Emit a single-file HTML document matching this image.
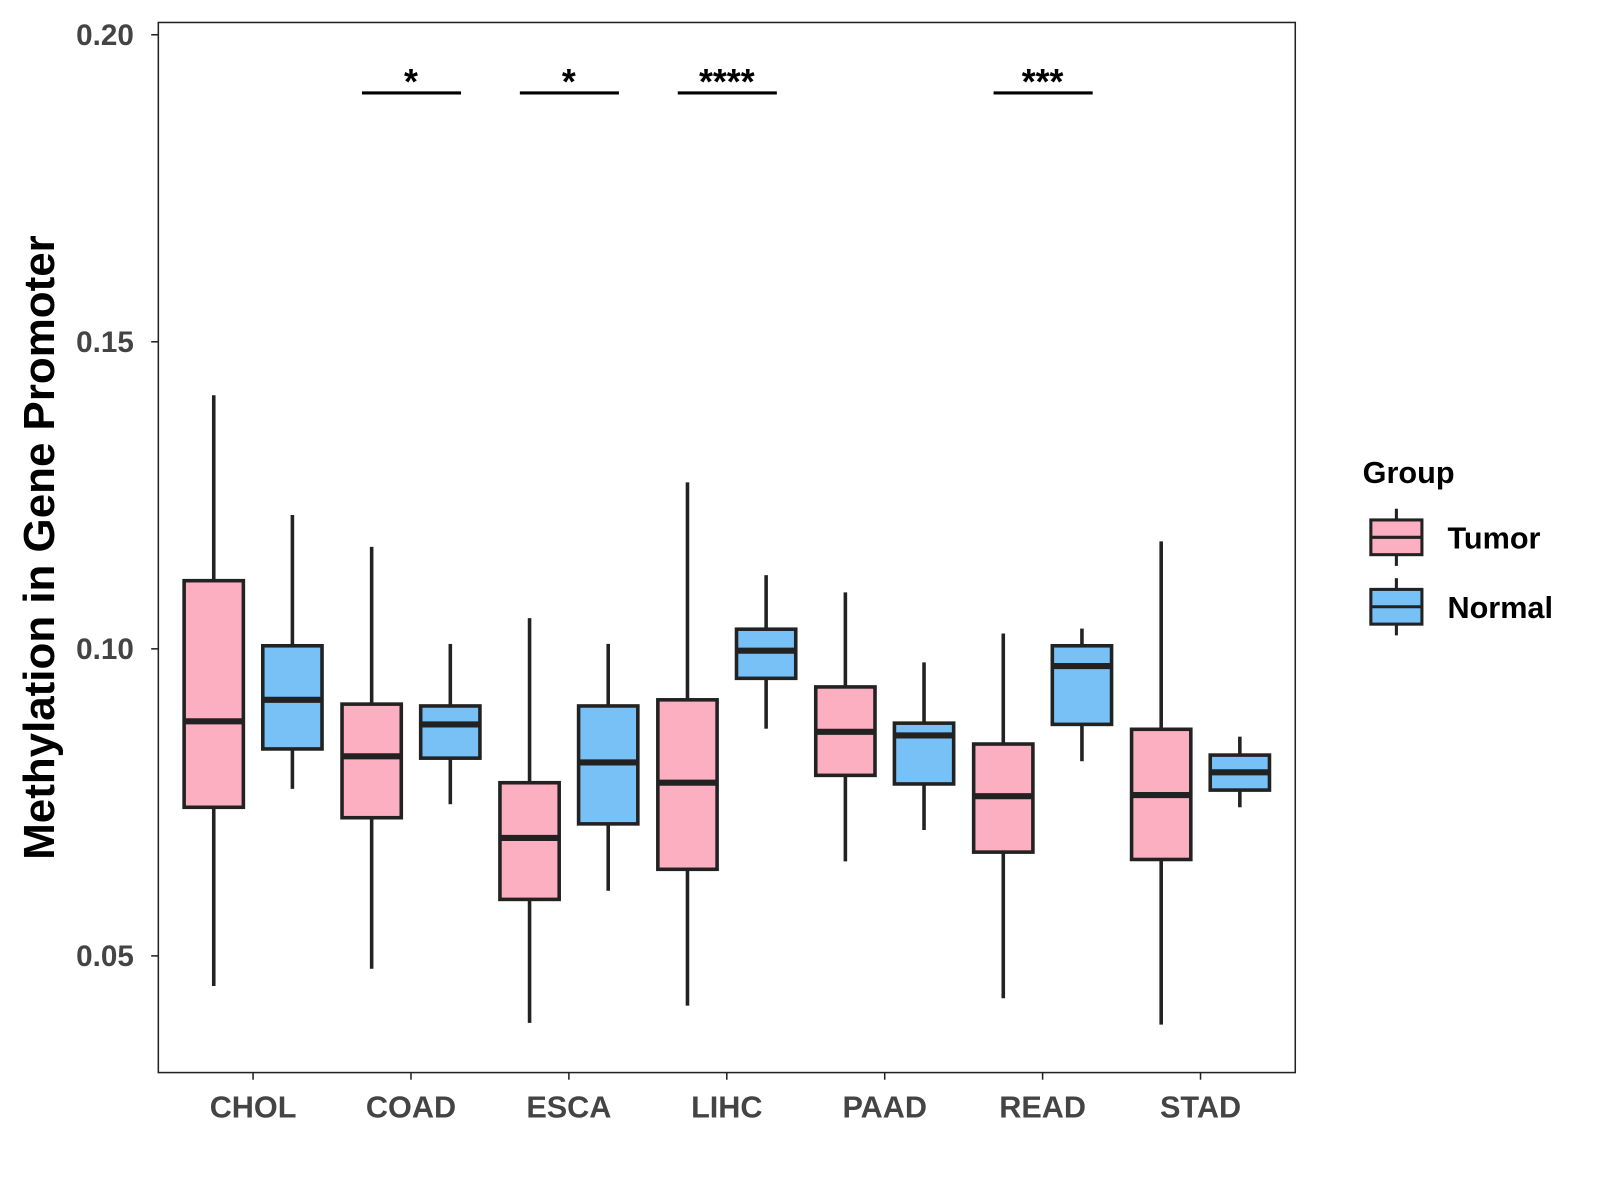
<!DOCTYPE html>
<html><head><meta charset="utf-8"><style>
html,body{margin:0;padding:0;background:#fff;}
svg{display:block;font-family:"Liberation Sans",Arial,sans-serif;font-weight:bold;}
</style></head><body>
<svg width="1600" height="1200"><g id="chart" transform="scale(1.0215)"></g></svg>
<script>
const categories=["CHOL","COAD","ESCA","LIHC","PAAD","READ","STAD"];
const tumorStats=[[0.1413,0.1111,0.0882,0.0742,0.0451],[0.1166,0.0910,0.0825,0.0725,0.0479],[0.1050,0.0782,0.0692,0.0592,0.0391],[0.1271,0.0917,0.0782,0.0641,0.0419],[0.1092,0.0938,0.0865,0.0794,0.0654],[0.1025,0.0845,0.0760,0.0669,0.0431],[0.1175,0.0869,0.0762,0.0657,0.0388]];
const normalStats=[[0.1218,0.1005,0.0917,0.0837,0.0772],[0.1008,0.0907,0.0877,0.0822,0.0747],[0.1008,0.0907,0.0815,0.0715,0.0606],[0.1120,0.1032,0.0997,0.0952,0.0870],[0.0978,0.0879,0.0859,0.0780,0.0705],[0.1033,0.1005,0.0972,0.0877,0.0817],[0.0857,0.0827,0.0799,0.0770,0.0742]];
const yTicks=[0.05,0.10,0.15,0.20];
const yTickLabels=["0.05","0.10","0.15","0.20"];
const sigCategories=["COAD","ESCA","LIHC","READ"];
const sigLabels=["*","*","****","***"];

const svg=document.getElementById('chart');
const NS="http://www.w3.org/2000/svg";
const L=155,R=1268,T=22,B=1050;
const yMin=0.0310,yMax=0.2020;
const y=v=>B-(v-yMin)/(yMax-yMin)*(B-T);
const x=i=>L+(i+0.6)*(R-L)/(categories.length+0.2);
function el(tag,attrs,parent){const e=document.createElementNS(NS,tag);for(const k in attrs)e.setAttribute(k,attrs[k]);(parent||svg).appendChild(e);return e;}

let panel=el('rect',{x:L,y:T,width:R-L,height:B-T,fill:'none',stroke:'#222','stroke-width':1.5});



yTicks.forEach((t,i)=>{
  let tk=el('line',{x1:L-7,x2:L,y1:y(t),y2:y(t),stroke:'#222','stroke-width':1.5});
  
  
  let lb=el('text',{x:L-24,y:y(t)+10,'text-anchor':'end','font-size':29,fill:'#444'});
  lb.textContent=yTickLabels[i];
  
  
});
let yt=el('text',{x:0,y:0,transform:'translate(53,536) rotate(-90)','text-anchor':'middle','font-size':43,fill:'#000'});
yt.textContent='Methylation in Gene Promoter';



function box(cx,s,fill,name){
  const g=el('g',{});
  
  
  const w=58;
  el('line',{x1:cx,x2:cx,y1:y(s[0]),y2:y(s[1]),stroke:'#222','stroke-width':3.5},g);
  el('line',{x1:cx,x2:cx,y1:y(s[3]),y2:y(s[4]),stroke:'#222','stroke-width':3.5},g);
  el('rect',{x:cx-w/2,y:y(s[1]),width:w,height:y(s[3])-y(s[1]),fill:fill,stroke:'#222','stroke-width':3.5},g);
  el('line',{x1:cx-w/2,x2:cx+w/2,y1:y(s[2]),y2:y(s[2]),stroke:'#222','stroke-width':6},g);
}
categories.forEach((c,i)=>{
  const cx=x(i);
  box(cx-38.5,tumorStats[i],'#fbafc1','tumor-box-'+c.toLowerCase());
  box(cx+38.5,normalStats[i],'#77c1f7','normal-box-'+c.toLowerCase());
  let tk=el('line',{x1:cx,x2:cx,y1:B,y2:B+7,stroke:'#222','stroke-width':1.5});
  
  
  let lb=el('text',{x:cx,y:B+44,'text-anchor':'middle','font-size':30,fill:'#444'});
  lb.textContent=c;
  
  
});
sigCategories.forEach((c,j)=>{
  const cx=x(categories.indexOf(c));
  let ln=el('line',{x1:cx-48,x2:cx+49,y1:91,y2:91,stroke:'#000','stroke-width':3});
  
  
  let st=el('text',{x:cx,y:92,'text-anchor':'middle','font-size':35,fill:'#000'});
  st.textContent=sigLabels[j];
  
  
});
let lt=el('text',{x:1334,y:473,'font-size':30,fill:'#000'});
lt.textContent='Group';


[['Tumor','#fbafc1',526],['Normal','#77c1f7',594]].forEach(([n,f,cy])=>{
  const g=el('g',{});
  
  
  el('line',{x1:1367,x2:1367,y1:cy-28,y2:cy+28,stroke:'#222','stroke-width':3},g);
  el('rect',{x:1342,y:cy-17,width:50,height:34,fill:f,stroke:'#222','stroke-width':3},g);
  el('line',{x1:1342,x2:1392,y1:cy,y2:cy,stroke:'#222','stroke-width':3},g);
  const t=el('text',{x:1417,y:cy+11,'font-size':30,fill:'#000'},g);
  t.textContent=n;
});
</script>
</body></html>
